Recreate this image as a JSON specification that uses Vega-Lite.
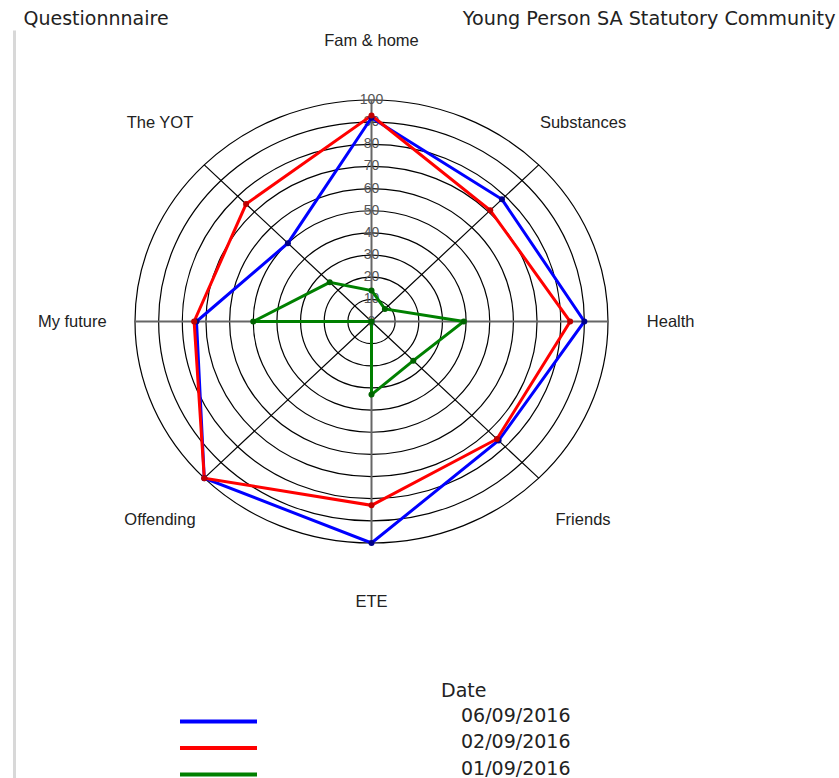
{
  "$schema": "https://vega.github.io/schema/vega-lite/v6.json",
  "width": 839,
  "height": 748,
  "autosize": {"type": "none"},
  "padding": {"top": 30, "left": 0, "right": 0, "bottom": 0},
  "background": "white",
  "config": {"view": {"stroke": null}, "font": "Liberation Sans", "axis": {"grid": false, "ticks": false, "labels": false, "domain": false}},
  "datasets": {
    "axes": [
      {"axis": "Fam & home"}, {"axis": "Substances"}, {"axis": "Health"}, {"axis": "Friends"},
      {"axis": "ETE"}, {"axis": "Offending"}, {"axis": "My future"}, {"axis": "The YOT"}
    ],
    "rings": [
      {"ring": 0}, {"ring": 10}, {"ring": 20}, {"ring": 30}, {"ring": 40}, {"ring": 50},
      {"ring": 60}, {"ring": 70}, {"ring": 80}, {"ring": 90}, {"ring": 100}
    ],
    "scores": [
      {"date": "06/09/2016", "axis": "Fam & home", "value": 92},
      {"date": "06/09/2016", "axis": "Substances", "value": 78},
      {"date": "06/09/2016", "axis": "Health", "value": 90},
      {"date": "06/09/2016", "axis": "Friends", "value": 76},
      {"date": "06/09/2016", "axis": "ETE", "value": 100},
      {"date": "06/09/2016", "axis": "Offending", "value": 100},
      {"date": "06/09/2016", "axis": "My future", "value": 74},
      {"date": "06/09/2016", "axis": "The YOT", "value": 50},
      {"date": "02/09/2016", "axis": "Fam & home", "value": 93},
      {"date": "02/09/2016", "axis": "Substances", "value": 71},
      {"date": "02/09/2016", "axis": "Health", "value": 84},
      {"date": "02/09/2016", "axis": "Friends", "value": 75},
      {"date": "02/09/2016", "axis": "ETE", "value": 83},
      {"date": "02/09/2016", "axis": "Offending", "value": 100},
      {"date": "02/09/2016", "axis": "My future", "value": 75},
      {"date": "02/09/2016", "axis": "The YOT", "value": 75},
      {"date": "01/09/2016", "axis": "Fam & home", "value": 14},
      {"date": "01/09/2016", "axis": "Substances", "value": 8},
      {"date": "01/09/2016", "axis": "Health", "value": 39},
      {"date": "01/09/2016", "axis": "Friends", "value": 25},
      {"date": "01/09/2016", "axis": "ETE", "value": 33},
      {"date": "01/09/2016", "axis": "Offending", "value": 0},
      {"date": "01/09/2016", "axis": "My future", "value": 50},
      {"date": "01/09/2016", "axis": "The YOT", "value": 25}
    ]
  },
  "layer": [
    {
      "data": {"name": "rings"},
      "transform": [{"filter": "datum.ring > 0"}, {"calculate": "0", "as": "c"}],
      "mark": {"type": "point", "shape": "M -1 0 A 1 0.9366 0 1 0 1 0 A 1 0.9366 0 1 0 -1 0 Z", "filled": false, "stroke": "#000", "strokeWidth": 1.2, "opacity": 1},
      "encoding": {
        "x": {"field": "c", "type": "quantitative", "scale": {"domain": [-157.08, 197.67], "nice": false, "zero": false},
          "axis": {"orient": "top", "title": "Questionnnaire", "titleFont": "DejaVu Sans", "titleFontSize": 19, "titleFontWeight": "normal", "titleColor": "#222", "titleX": 23, "titleY": -6, "titleAlign": "left", "titleAnchor": "start", "titleBaseline": "alphabetic"}},
        "y": {"field": "c", "type": "quantitative", "scale": {"domain": [-206.09, 131.6], "nice": false, "zero": false},
          "axis": {"orient": "left", "offset": -14, "domain": true, "domainColor": "#d8d8d8", "domainWidth": 3,
            "title": "Young Person SA Statutory Community", "titleAngle": 0, "titleFont": "DejaVu Sans", "titleFontSize": 19.2, "titleFontWeight": "normal", "titleColor": "#222", "titleX": 821, "titleY": -6, "titleAlign": "right", "titleBaseline": "alphabetic"}},
        "size": {"field": "ring", "type": "quantitative", "scale": {"type": "pow", "exponent": 2, "domain": [0, 100], "range": [0, 223729]}, "legend": null}
      }
    },
    {
      "data": {"name": "axes"},
      "transform": [
        {"calculate": "indexof(['Fam & home','Substances','Health','Friends','ETE','Offending','My future','The YOT'], datum.axis)", "as": "idx"},
        {"calculate": "0", "as": "c"},
        {"calculate": "100*sin(datum.idx*PI/4)", "as": "ex"},
        {"calculate": "100*cos(datum.idx*PI/4)", "as": "ey"},
        {"calculate": "datum.idx % 2 == 0 ? 'main' : 'diag'", "as": "kind"}
      ],
      "mark": {"type": "rule"},
      "encoding": {
        "x": {"field": "c", "type": "quantitative"},
        "y": {"field": "c", "type": "quantitative"},
        "x2": {"field": "ex"},
        "y2": {"field": "ey"},
        "stroke": {"field": "kind", "type": "nominal", "scale": {"domain": ["main", "diag"], "range": ["#666666", "#000000"]}, "legend": null},
        "strokeWidth": {"field": "kind", "type": "nominal", "scale": {"domain": ["main", "diag"], "range": [2, 1.2]}, "legend": null}
      }
    },
    {
      "data": {"name": "rings"},
      "transform": [{"calculate": "0", "as": "c"}],
      "mark": {"type": "text", "align": "center", "baseline": "middle", "font": "Liberation Sans", "fontSize": 14, "fill": "#555"},
      "encoding": {
        "x": {"field": "c", "type": "quantitative"},
        "y": {"field": "ring", "type": "quantitative"},
        "text": {"field": "ring", "type": "quantitative"}
      }
    },
    {
      "data": {"name": "scores"},
      "transform": [
        {"calculate": "indexof(['Fam & home','Substances','Health','Friends','ETE','Offending','My future','The YOT'], datum.axis)", "as": "idx"},
        {"calculate": "datum.value*sin(datum.idx*PI/4)", "as": "px"},
        {"calculate": "datum.value*cos(datum.idx*PI/4)", "as": "py"}
      ],
      "mark": {"type": "line", "interpolate": "linear-closed", "strokeWidth": 3},
      "encoding": {
        "x": {"field": "px", "type": "quantitative"},
        "y": {"field": "py", "type": "quantitative"},
        "order": {"field": "idx", "type": "quantitative"},
        "color": {"field": "date", "type": "nominal",
          "scale": {"domain": ["06/09/2016", "02/09/2016", "01/09/2016"], "range": ["#0000ff", "#ff0000", "#008000"]},
          "legend": {"orient": "none", "legendX": 441, "legendY": 652, "title": "Date", "titleFont": "DejaVu Sans", "titleFontSize": 19, "titleFontWeight": "normal", "titleColor": "#222", "titlePadding": 11,
            "symbolType": "M -10 0 L 10 0", "symbolSize": 59.3, "symbolStrokeWidth": 4, "symbolOffset": -232, "rowPadding": 2.5,
            "labelFont": "DejaVu Sans", "labelFontSize": 19, "labelColor": "#222", "labelBaseline": "alphabetic", "labelOffset": 233}}
      }
    },
    {
      "data": {"name": "scores"},
      "transform": [
        {"calculate": "indexof(['Fam & home','Substances','Health','Friends','ETE','Offending','My future','The YOT'], datum.axis)", "as": "idx"},
        {"calculate": "datum.value*sin(datum.idx*PI/4)", "as": "px"},
        {"calculate": "datum.value*cos(datum.idx*PI/4)", "as": "py"}
      ],
      "mark": {"type": "point", "filled": true, "size": 36, "opacity": 1},
      "encoding": {
        "x": {"field": "px", "type": "quantitative"},
        "y": {"field": "py", "type": "quantitative"},
        "fill": {"field": "date", "type": "nominal", "scale": {"domain": ["06/09/2016", "02/09/2016", "01/09/2016"], "range": ["#00008b", "#c00000", "#006400"]}, "legend": null}
      }
    },
    {
      "data": {"name": "axes"},
      "transform": [
        {"calculate": "indexof(['Fam & home','Substances','Health','Friends','ETE','Offending','My future','The YOT'], datum.axis)", "as": "idx"},
        {"calculate": "126.5*sin(datum.idx*PI/4)", "as": "lx"},
        {"calculate": "126.5*cos(datum.idx*PI/4)", "as": "ly"}
      ],
      "mark": {"type": "text", "align": "center", "baseline": "middle", "font": "Liberation Sans", "fontSize": 16.5, "fill": "#222"},
      "encoding": {
        "x": {"field": "lx", "type": "quantitative"},
        "y": {"field": "ly", "type": "quantitative"},
        "text": {"field": "axis", "type": "nominal"}
      }
    }
  ]
}
